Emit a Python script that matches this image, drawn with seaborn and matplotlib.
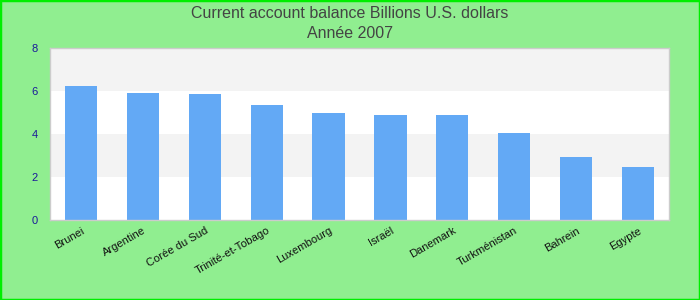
import matplotlib
matplotlib.use("Agg")
import matplotlib.pyplot as plt
import seaborn as sns
import pandas as pd
from matplotlib.patches import Rectangle

countries = ["Brunei", "Argentine", "Corée du Sud", "Trinité-et-Tobago", "Luxembourg",
             "Israël", "Danemark", "Turkménistan", "Bahrein", "Egypte"]
values = [6.23, 5.91, 5.86, 5.35, 4.98, 4.88, 4.88, 4.05, 2.93, 2.47]
yticks = [0, 2, 4, 6, 8]

sns.set_theme(style="white")
plt.rcParams['font.family'] = ['Liberation Sans', 'DejaVu Sans']

fig = plt.figure(figsize=(7, 3), dpi=100, facecolor="#90ee90")
fig.patches.append(Rectangle((0, 0), 1, 1, transform=fig.transFigure, fill=False,
                             edgecolor="#00ee00", linewidth=2.5, zorder=10))
ax = fig.add_axes([50/700, 1-220/300, 619/700, 172/300])
ax.set_facecolor("white")

for lo in [2, 6]:
    ax.axhspan(lo, lo + 2, color="#f3f3f3", zorder=0, linewidth=0)

df = pd.DataFrame({"country": countries, "value": values})
sns.barplot(data=df, x="country", y="value", color="#63a9f5", saturation=1,
            width=0.52, ax=ax, zorder=2, linewidth=0, edgecolor="none")

ax.set_xlim(-0.5, len(countries) - 0.5)
ax.set_ylim(0, 8)
ax.set_yticks(yticks)
ax.set_yticklabels([str(t) for t in yticks], color="#1a1a99", fontsize=8)
ax.set_xlabel("")
ax.set_ylabel("")
ax.tick_params(axis="y", length=0, pad=9)
ax.tick_params(axis="x", length=0, pad=4)
plt.setp(ax.get_xticklabels(), rotation=30, ha="right", rotation_mode="anchor",
         fontsize=8, color="#111111")
for s in ax.spines.values():
    s.set_color("#cccccc")
    s.set_linewidth(1)

fig.text(0.5, 1 - 13/300, "Current account balance Billions U.S. dollars",
         ha="center", va="center", fontsize=11.5, color="#444444")
fig.text(0.5, 1 - 33/300, "Année 2007", ha="center", va="center",
         fontsize=11.5, color="#444444")

fig.savefig("out.png", dpi=100, facecolor=fig.get_facecolor())
